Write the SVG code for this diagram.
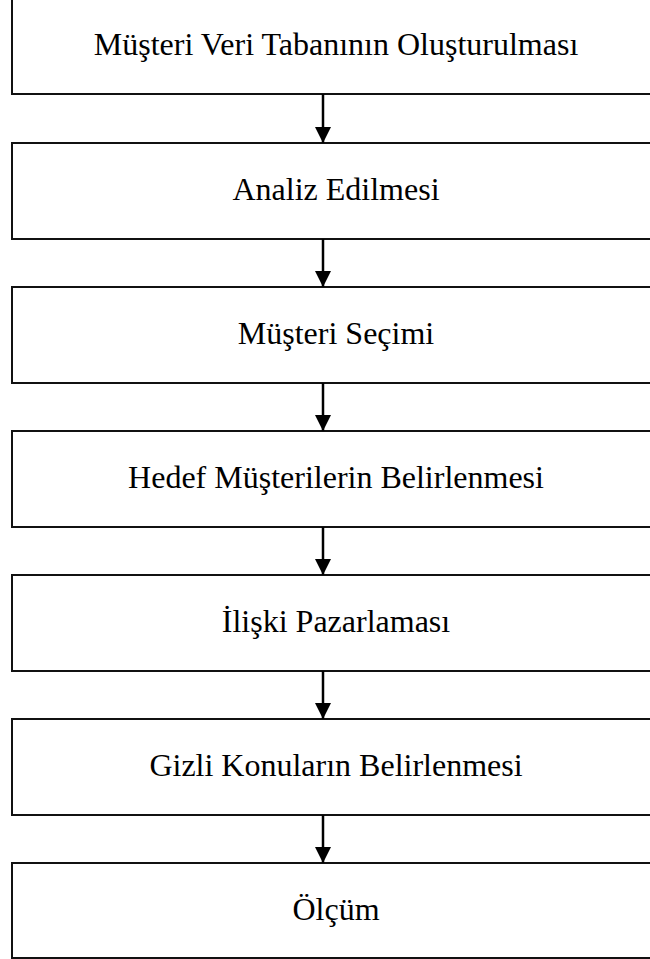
<svg xmlns="http://www.w3.org/2000/svg" width="650" height="959" viewBox="0 0 650 959">
  <style>
    .box { fill: #ffffff; stroke: #111111; stroke-width: 2; }
    .label { font-family: "Liberation Serif", "Times New Roman", serif; font-size: 32px; fill: #000000; text-anchor: middle; }
    .link { stroke: #000000; stroke-width: 2.5; fill: none; }
  </style>
  <defs>
    <marker id="arrowhead" markerUnits="userSpaceOnUse" markerWidth="16" markerHeight="16" refX="16" refY="8" orient="auto">
      <path d="M0,0 L16,8 L0,16 Z" fill="#000000"/>
    </marker>
  </defs>
  <rect width="650" height="959" fill="#ffffff"/>

  <!-- process steps, top to bottom -->
  <g id="step1">
    <rect class="box" x="12" y="-2" width="660" height="96"/>
    <text class="label" x="336" y="55">Müşteri Veri Tabanının Oluşturulması</text>
  </g>
  <g id="step2">
    <rect class="box" x="12" y="143" width="660" height="96"/>
    <text class="label" x="336" y="200">Analiz Edilmesi</text>
  </g>
  <g id="step3">
    <rect class="box" x="12" y="287" width="660" height="96"/>
    <text class="label" x="336" y="344">Müşteri Seçimi</text>
  </g>
  <g id="step4">
    <rect class="box" x="12" y="431" width="660" height="96"/>
    <text class="label" x="336" y="488">Hedef Müşterilerin Belirlenmesi</text>
  </g>
  <g id="step5">
    <rect class="box" x="12" y="575" width="660" height="96"/>
    <text class="label" x="336" y="632">İlişki Pazarlaması</text>
  </g>
  <g id="step6">
    <rect class="box" x="12" y="719" width="660" height="96"/>
    <text class="label" x="336" y="776">Gizli Konuların Belirlenmesi</text>
  </g>
  <g id="step7">
    <rect class="box" x="12" y="863" width="660" height="95"/>
    <text class="label" x="336" y="920">Ölçüm</text>
  </g>

  <!-- connectors between consecutive steps -->
  <g id="connectors">
    <line class="link" x1="323" y1="94" x2="323" y2="143" marker-end="url(#arrowhead)"/>
    <line class="link" x1="323" y1="239" x2="323" y2="287" marker-end="url(#arrowhead)"/>
    <line class="link" x1="323" y1="383" x2="323" y2="431" marker-end="url(#arrowhead)"/>
    <line class="link" x1="323" y1="527" x2="323" y2="575" marker-end="url(#arrowhead)"/>
    <line class="link" x1="323" y1="671" x2="323" y2="719" marker-end="url(#arrowhead)"/>
    <line class="link" x1="323" y1="815" x2="323" y2="863" marker-end="url(#arrowhead)"/>
  </g>
</svg>
